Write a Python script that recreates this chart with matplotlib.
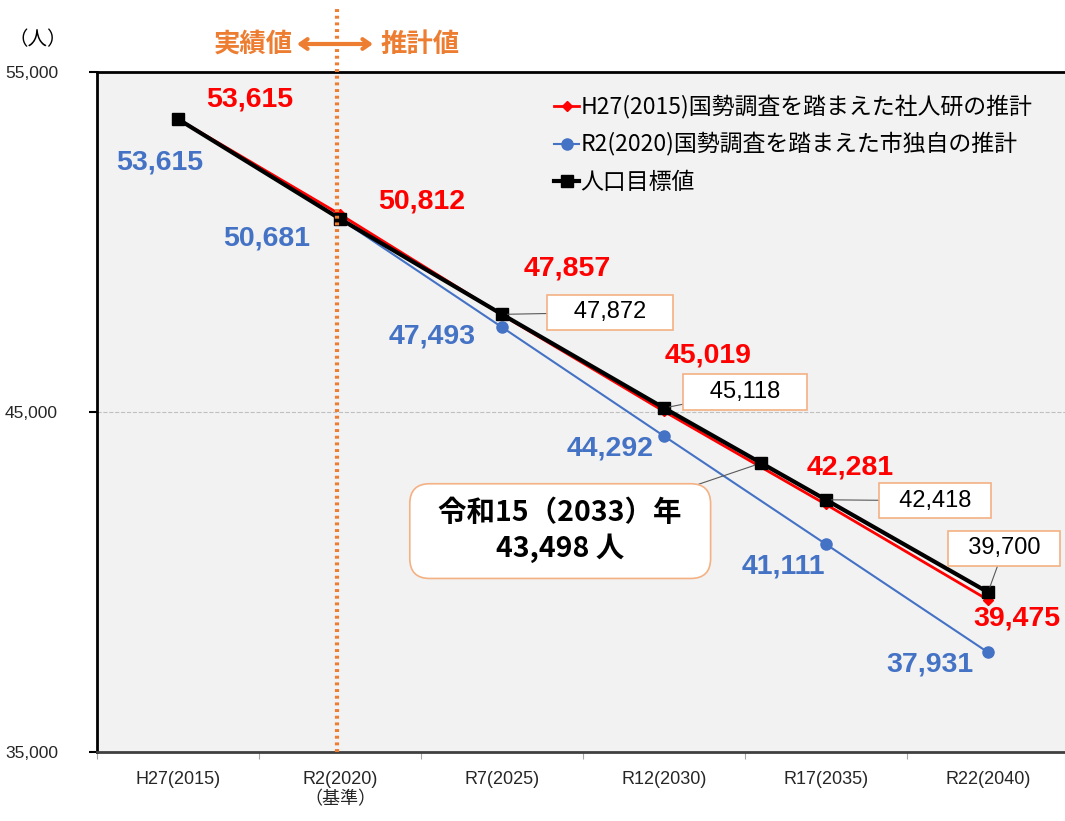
import matplotlib.pyplot as plt

plt.rcParams['font.family'] = ['Noto Sans CJK JP', 'DejaVu Sans']

# data
categories = ['H27(2015)', 'R2(2020)\n（基準）', 'R7(2025)', 'R12(2030)', 'R17(2035)', 'R22(2040)']
years = [2015, 2020, 2025, 2030, 2035, 2040]
ipss_values = [53615, 50812, 47857, 45019, 42281, 39475]
city_values = [53615, 50681, 47493, 44292, 41111, 37931]
target_years = [2015, 2020, 2025, 2030, 2033, 2035, 2040]
target_values = [53615, 50681, 47872, 45118, 43498, 42418, 39700]
boxed_years = [2025, 2030, 2035, 2040]
goal_year = 2033
series_names = ['H27(2015)国勢調査を踏まえた社人研の推計',
                'R2(2020)国勢調査を踏まえた市独自の推計',
                '人口目標値']

RED = '#FF0000'
BLUE = '#4472C4'
ORANGE = '#ED7D31'
BOXEDGE = '#F4B183'
NUM_FONT = ['Liberation Sans', 'Noto Sans CJK JP']


def to_x(year):
    return (year - years[0]) / 5


W, H = 1065, 821
fig = plt.figure(figsize=(W / 100, H / 100), dpi=100)
ax = fig.add_axes([97 / W, 1 - 752 / H, 972 / W, 680 / H])
ax.set_facecolor('#F2F2F2')

xs = [to_x(y) for y in years]
txs = [to_x(y) for y in target_years]
ax.plot(xs, ipss_values, color=RED, lw=2, marker='D', ms=5, zorder=3, label=series_names[0])
ax.plot(xs, city_values, color=BLUE, lw=1.5, marker='o', ms=8, zorder=2, label=series_names[1])
ax.plot(txs, target_values, color='black', lw=3, marker='s', ms=9, zorder=4, label=series_names[2])

ax.set_xlim(-0.5, 5.5)
ax.set_ylim(35000, 55000)
ax.set_yticks([35000, 45000, 55000])
ax.set_yticklabels(['{:,}'.format(v) for v in [35000, 45000, 55000]], fontsize=12.5, family=NUM_FONT,
                   color='#262626')
ax.yaxis.grid(True, linestyle='--', color='#BFBFBF', lw=0.8)
ax.set_axisbelow(True)
ax.tick_params(axis='y', length=6, width=1.5, pad=22)

ax.set_xticks([i - 0.5 for i in range(len(categories) + 1)])
ax.set_xticklabels([])
ax.tick_params(axis='x', which='major', length=5, color='#A6A6A6')
ax.set_xticks(range(len(categories)), minor=True)
ax.set_xticklabels(categories, minor=True, fontsize=13, family=NUM_FONT, color='#262626')
ax.tick_params(axis='x', which='minor', length=0, pad=14)

for side in ['left', 'top', 'bottom']:
    ax.spines[side].set_linewidth(2)
    ax.spines[side].set_color('black')
ax.spines['bottom'].set_color('#404040')
ax.spines['right'].set_visible(False)

# boundary between actual and estimated values
ax.axvline(to_x(2020) - 0.02, ymin=0, ymax=1.094, color=ORANGE, lw=3,
           linestyle=(0, (0.7, 0.9)), clip_on=False, zorder=5)

# value labels
red_off = [(72, 20), (82, 13), (65, 46), (44, 56), (24, 37), (29, -19)]
blue_off = [(-18, -43), (-73, -20), (-70, -9), (-54, -12), (-43, -22), (-58, -12)]
for x, v, o in zip(xs, ipss_values, red_off):
    ax.annotate('{:,}'.format(v), (x, v), xytext=o, textcoords='offset pixels',
                ha='center', va='center', color=RED, fontsize=20.5, fontweight='bold',
                family=NUM_FONT, zorder=6)
for x, v, o in zip(xs, city_values, blue_off):
    ax.annotate('{:,}'.format(v), (x, v), xytext=o, textcoords='offset pixels',
                ha='center', va='center', color=BLUE, fontsize=20.5, fontweight='bold',
                family=NUM_FONT, zorder=6)

box_off = [(108, 2), (81, 16), (109, -1), (16, 44)]
box_space = [3, 3, 2, 2]
for yr, o, n in zip(boxed_years, box_off, box_space):
    v = target_values[target_years.index(yr)]
    ax.annotate(' ' * n + '{:,}'.format(v) + ' ' * n, (to_x(yr), v), xytext=o,
                textcoords='offset pixels',
                ha='center', va='center', fontsize=17, family=NUM_FONT, color='black',
                bbox=dict(boxstyle='square,pad=0.28', fc='white', ec=BOXEDGE, lw=1.2),
                arrowprops=dict(arrowstyle='-', color='#595959', lw=0.8, shrinkA=0, shrinkB=4),
                zorder=7)

gv = target_values[target_years.index(goal_year)]
ax.annotate('  令和15（2033）年  \n43,498 人', (to_x(goal_year), gv), xytext=(-201, -68),
            textcoords='offset pixels', ha='center', va='center', fontsize=20.5,
            fontweight='bold', linespacing=1.25,
            bbox=dict(boxstyle='round,pad=0.55,rounding_size=0.7', fc='white', ec=BOXEDGE, lw=1.2),
            arrowprops=dict(arrowstyle='-', color='#595959', lw=0.8, shrinkA=0, shrinkB=5),
            zorder=7)

leg = ax.legend(loc='upper left', bbox_to_anchor=(545 / W, 1 - 86 / H),
                bbox_transform=fig.transFigure, frameon=False, fontsize=16.5,
                handlelength=1.1, handletextpad=0.05, labelspacing=0.6,
                borderaxespad=0)

# header texts
fig.text(38 / W, 1 - 40 / H, '（人）', ha='center', va='center', fontsize=14)
fig.text(253 / W, 1 - 44 / H, '実績値', ha='center', va='center', fontsize=19,
         color=ORANGE, fontweight='bold')
fig.text(420 / W, 1 - 44 / H, '推計値', ha='center', va='center', fontsize=19,
         color=ORANGE, fontweight='bold')
ax.annotate('', xy=(373, H - 44), xytext=(297, H - 44), xycoords='figure pixels',
            textcoords='figure pixels',
            arrowprops=dict(arrowstyle='<->,head_length=0.5,head_width=0.35', color=ORANGE,
                            lw=3, shrinkA=0, shrinkB=0))

fig.savefig('out.png', dpi=100)
